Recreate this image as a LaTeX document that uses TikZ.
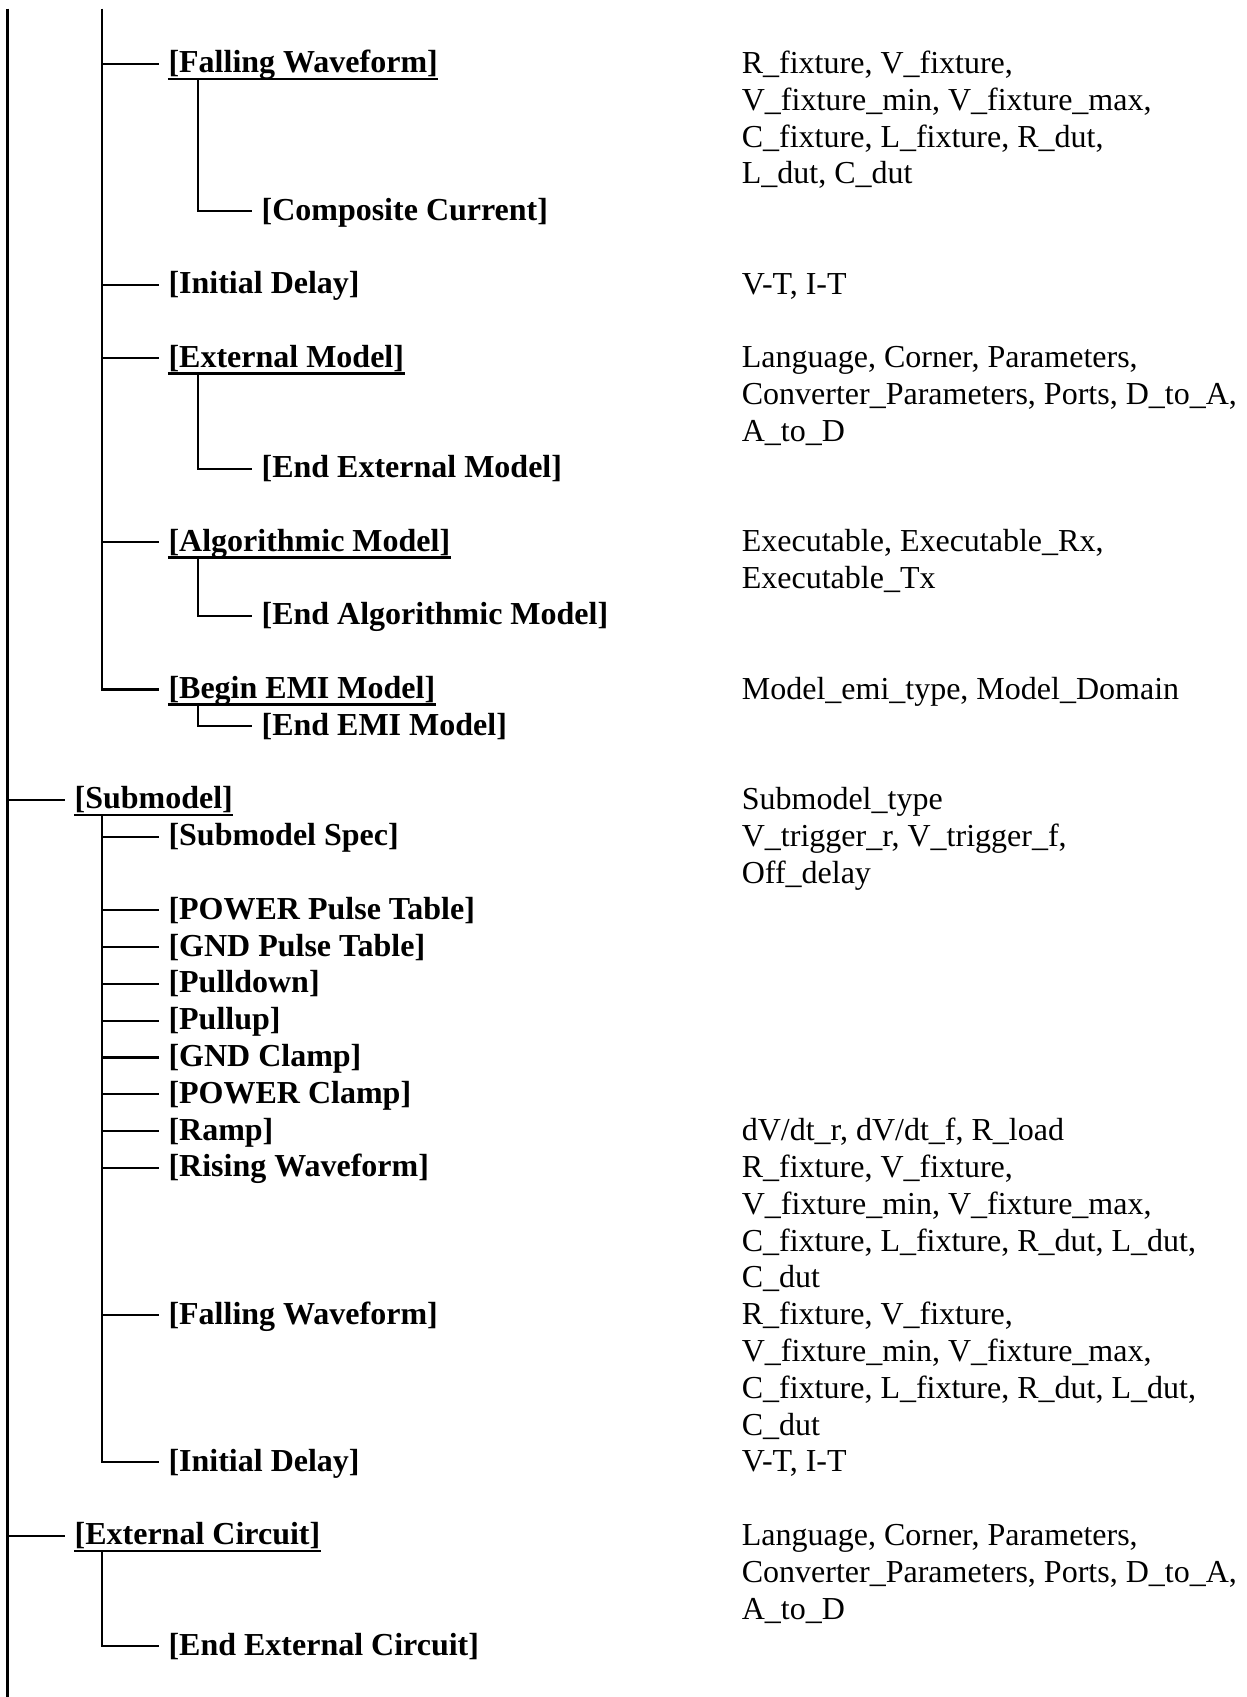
\documentclass[tikz,border=0pt]{standalone}
\usepackage{fontspec}
\setmainfont{Liberation Serif}
\usetikzlibrary{math}

\begin{document}
\begin{tikzpicture}[x=1pt, y=-13.8pt]

	\tikzmath{
		\xa = 2.8;   % tronc niveau 1
		\xb = 38.4;  % tronc niveau 2
		\xc = 74.1;  % tronc niveau 3
		\ea = 24.4;  % bout des branches, niveau 1
		\eb = 59.6;  % bout des branches, niveau 2
		\ec = 94.5;  % bout des branches, niveau 3
		\xd = 278;   % colonne des paramètres
	}

	\useasboundingbox (0pt,23.96pt) rectangle (467.6pt,-612.44pt);

	\tikzset{
		ligne/.style={line width=0.8pt},
		souligne/.style={line width=1pt},
		cle/.style={anchor=west, inner xsep=3.4pt, inner ysep=0pt,
				text height=8.5pt, text depth=1.7pt,
				font=\fontsize{12}{13.8}\selectfont\bfseries},
		desc/.style={anchor=north west, inner sep=0pt, align=left, yshift=6.26pt,
				font=\fontsize{12}{13.8}\selectfont}
	}

	\coordinate (trA)  at (\xa, -1.5);
	\coordinate (basA) at (\xa, 44.4);
	\coordinate (trB)  at (\xb, -1.5);
	\coordinate (trC)  at (\xc, 0);

	% mots-clés du haut
	\node[cle] (fwA)   at (\eb, 0)  {[Falling Waveform]};
	\node[cle] (ccA)   at (\ec, 4)  {[Composite Current]};
	\node[cle] (idA)   at (\eb, 6)  {[Initial Delay]};
	\node[cle] (emA)   at (\eb, 8)  {[External Model]};
	\node[cle] (eemA)  at (\ec, 11) {[End External Model]};
	\node[cle] (amA)   at (\eb, 13) {[Algorithmic Model]};
	\node[cle] (eamA)  at (\ec, 15) {[End Algorithmic Model]};
	\node[cle] (emiA)  at (\eb, 17) {[Begin EMI Model]};
	\node[cle] (eemiA) at (\ec, 18) {[End EMI Model]};

	% [Submodel]
	\node[cle] (sub)  at (\ea, 20) {[Submodel]};
	\node[cle] (spec) at (\eb, 21) {[Submodel Spec]};
	\node[cle] (ppt)  at (\eb, 23) {[POWER Pulse Table]};
	\node[cle] (gpt)  at (\eb, 24) {[GND Pulse Table]};
	\node[cle] (pd)   at (\eb, 25) {[Pulldown]};
	\node[cle] (pu)   at (\eb, 26) {[Pullup]};
	\node[cle] (gc)   at (\eb, 27) {[GND Clamp]};
	\node[cle] (pc)   at (\eb, 28) {[POWER Clamp]};
	\node[cle] (ramp) at (\eb, 29) {[Ramp]};
	\node[cle] (rw)   at (\eb, 30) {[Rising Waveform]};
	\node[cle] (fwB)  at (\eb, 34) {[Falling Waveform]};
	\node[cle] (idB)  at (\eb, 38) {[Initial Delay]};

	% [External Circuit]
	\node[cle] (ext) at (\ea, 40) {[External Circuit]};
	\node[cle] (eec) at (\eb, 43) {[End External Circuit]};

	% soulignés
	\foreach \n in {fwA, emA, amA, emiA, sub, ext}{
			\draw[souligne] ([xshift=3.4pt, yshift=-2.25pt]\n.base west)
			-- ([xshift=-3.4pt, yshift=-2.25pt]\n.base east);
		}

	% niveau 1
	\draw[ligne] (trA) -- (basA);
	\foreach \n in {sub, ext}{
			\draw[ligne] (\n.west -| trA) -- (\n.west);
		}

	% niveau 2
	\draw[ligne] (trB) |- (emiA.west);
	\foreach \n in {fwA, idA, emA, amA}{
			\draw[ligne] (\n.west -| trB) -- (\n.west);
		}
	\draw[ligne] (sub.base -| trB) ++(0,-2.25pt) |- (idB.west);
	\foreach \n in {spec, ppt, gpt, pd, pu, gc, pc, ramp, rw, fwB}{
			\draw[ligne] (\n.west -| trB) -- (\n.west);
		}
	\draw[ligne] (ext.base -| trB) ++(0,-2.25pt) |- (eec.west);

	% niveau 3
	\foreach \mere/\fils in {fwA/ccA, emA/eemA, amA/eamA, emiA/eemiA}{
			\draw[ligne] (\mere.base -| trC) ++(0,-2.25pt) |- (\fils.west);
		}

	% paramètres
	\node[desc] (pfwA) at (\xd, 0) {\strut R\_fixture, V\_fixture,\\V\_fixture\_min, V\_fixture\_max,\\C\_fixture, L\_fixture, R\_dut,\\L\_dut, C\_dut};
	\node[desc] (pidA) at (\xd, 6) {\strut V-T, I-T};
	\node[desc] (pemA) at (\xd, 8) {\strut Language, Corner, Parameters,\\Converter\_Parameters, Ports, D\_to\_A,\\A\_to\_D};
	\node[desc] (pamA) at (\xd, 13) {\strut Executable, Executable\_Rx,\\Executable\_Tx};
	\node[desc] (pemiA) at (\xd, 17) {\strut Model\_emi\_type, Model\_Domain};
	\node[desc] (psub) at (\xd, 20) {\strut Submodel\_type};
	\node[desc] (pspec) at (\xd, 21) {\strut V\_trigger\_r, V\_trigger\_f,\\Off\_delay};
	\node[desc] (pramp) at (\xd, 29) {\strut dV/dt\_r, dV/dt\_f, R\_load};
	\node[desc] (prw) at (\xd, 30) {\strut R\_fixture, V\_fixture,\\V\_fixture\_min, V\_fixture\_max,\\C\_fixture, L\_fixture, R\_dut, L\_dut,\\C\_dut};
	\node[desc] (pfwB) at (\xd, 34) {\strut R\_fixture, V\_fixture,\\V\_fixture\_min, V\_fixture\_max,\\C\_fixture, L\_fixture, R\_dut, L\_dut,\\C\_dut};
	\node[desc] (pidB) at (\xd, 38) {\strut V-T, I-T};
	\node[desc] (pext) at (\xd, 40) {\strut Language, Corner, Parameters,\\Converter\_Parameters, Ports, D\_to\_A,\\A\_to\_D};

\end{tikzpicture}
\end{document}
